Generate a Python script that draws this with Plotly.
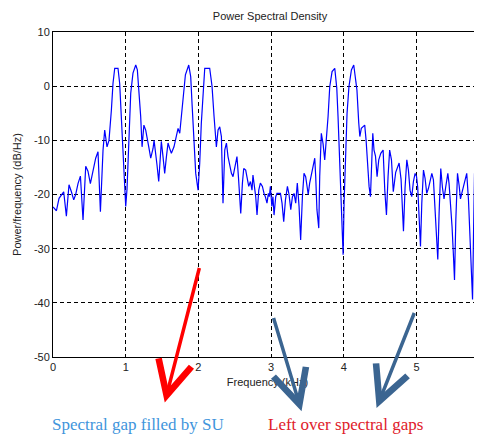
import plotly.graph_objects as go

freq_khz = [0.0, 0.047, 0.083, 0.129, 0.147, 0.184, 0.22, 0.253, 0.285, 0.312, 0.344, 0.377, 0.413, 0.45, 0.481, 0.514, 0.55, 0.587, 0.619, 0.652, 0.688, 0.711, 0.743, 0.77, 0.803, 0.825, 0.849, 0.894, 0.917, 0.94, 0.963, 1.0, 1.018, 1.045, 1.069, 1.1, 1.138,
            1.16, 1.18, 1.206, 1.225, 1.25, 1.275, 1.3, 1.317, 1.344, 1.376, 1.39, 1.408, 1.43, 1.454, 1.477, 1.49, 1.513, 1.536, 1.56, 1.582, 1.605, 1.628, 1.664, 1.697, 1.72, 1.743, 1.766, 1.788, 1.821, 1.867, 1.894, 1.912, 1.94, 1.963, 1.995, 2.018, 2.04, 2.063, 2.087, 2.155, 2.187, 2.215, 2.247, 2.27, 2.293, 2.316,
            2.338, 2.362, 2.385, 2.407, 2.43, 2.454, 2.476, 2.5, 2.53, 2.55, 2.568, 2.582, 2.605, 2.623, 2.65, 2.67, 2.692, 2.715, 2.737, 2.75, 2.774, 2.788, 2.806, 2.83, 2.852, 2.88, 2.902, 2.92, 2.943, 2.962, 2.975, 2.99, 3.01, 3.025, 3.04, 3.063, 3.08, 3.128, 3.15, 3.173, 3.197, 3.224, 3.246, 3.27, 3.293, 3.315, 3.338, 3.36, 3.384, 3.406, 3.43, 3.452, 3.475,
            3.51, 3.53, 3.554, 3.576, 3.6, 3.613, 3.63, 3.655, 3.668, 3.69, 3.714, 3.737, 3.76, 3.783, 3.806, 3.838, 3.875, 3.903, 3.92, 3.94, 3.96, 3.976, 3.99, 4.003, 4.022, 4.044, 4.07, 4.104, 4.136, 4.16, 4.18, 4.205, 4.22, 4.24, 4.287, 4.306, 4.325, 4.347, 4.366, 4.38, 4.398, 4.415, 4.435, 4.457, 4.48, 4.508, 4.54, 4.563, 4.586, 4.608, 4.63, 4.655,
            4.68, 4.713, 4.74, 4.76, 4.787, 4.806, 4.82, 4.842, 4.866, 4.888, 4.91, 4.934, 4.957, 4.98, 5.0, 5.016, 5.035, 5.054, 5.072, 5.095, 5.117, 5.14, 5.163, 5.186, 5.21, 5.232, 5.255, 5.278, 5.292, 5.31, 5.333, 5.356, 5.378, 5.4, 5.43, 5.447, 5.466, 5.488, 5.508, 5.522, 5.54, 5.563, 5.585, 5.604, 5.622, 5.645, 5.667, 5.69, 5.714, 5.732, 5.75, 5.77, 5.783, 5.797, 5.82, 5.842, 5.865, 5.9]

psd_db = [-22.3, -23, -20.7, -19.7, -19.5, -24, -18.2, -19.5, -21, -20, -18, -16.6, -24.7, -14.8, -15.7, -18, -15.5, -13.3, -12.1, -23.2, -11.8, -8.1, -11.2, -10, -4.4, 0.5, 3.3, 3.3, 0.5, -6.2, -12.5, -22.2, -19, -9.3, -1.3, 2.4, 3.9,
          3, -0.7, -5.6, -11.2, -7.2, -8.1, -9.6, -11.2, -13.3, -11.5, -10, -11.8, -14.5, -17.6, -11.8, -10.2, -13, -16.1, -13, -10.5, -11.5, -12.4, -11.2, -9.3, -7.8, -8.7, -5.6, -1.3, 2.1, 3.9, 1.75, -3.2, -11.8, -16.1, -19.2, -14.2, -6.8, -1.3, 3.3, 3.3, 0, -5.6, -11.2, -8.1, -7.5, -9.3,
          -21.6, -11.8, -10.5, -13, -14.5, -16.1, -16.7, -14.8, -13, -16.7, -21.6, -23.5, -17.9, -15.2, -15.5, -17.3, -18.5, -17.6, -19.2, -16.4, -18.5, -20.4, -23.8, -19.2, -17.9, -18.5, -19.8, -20.4, -21.6, -19.8, -20.4, -18.5, -22.2, -20.4, -23.8, -20.4, -19.8, -19.8, -21.6, -25, -21, -18.5, -20, -22.8, -20.4, -19.8, -21.6, -17.9, -22.2, -28.4, -20.4, -16.1, -16.7,
          -20, -17.9, -16.1, -14.8, -13.3, -16.7, -22.8, -26.2, -16.7, -8.7, -10.6, -13.6, -10, -5.6, -0.1, 2.7, 3.3, -0.4, -5.6, -13.6, -22.2, -25.3, -31.1, -21.6, -11.8, -5, -0.1, 3, 3.9, 1.75, -0.7, -6.8, -9.3, -7.8, -7.2, -10, -14.8, -18.5, -20.4, -14.8, -8.7, -11.8, -12.9, -16.7, -13.6, -12.4, -11.8, -19.2, -23.8, -16.7, -11.8, -13.6,
          -19.5, -15.9, -14.8, -14.2, -17.2, -22.1, -26.8, -18.7, -13.6, -15.5, -19.2, -20.4, -17.6, -16.1, -16.7, -18.7, -24.7, -29.6, -21.6, -15.5, -17, -19.8, -18.9, -17.3, -16.1, -17.3, -22.8, -27.8, -32, -23.4, -15.2, -18.7, -20.8, -18.7, -16.1, -18, -21.1, -25.9, -31.5, -35.8, -24.7, -16.1, -18.3, -20.8, -19.8, -18.7, -17.3, -16.1, -21, -27.8, -34.5, -39.4, -27.8, -16.1, -18.7, -20.4, -20.1, -20.1]

x_ticks = [0, 1, 2, 3, 4, 5]
y_ticks = [10, 0, -10, -20, -30, -40, -50]

# the page body adds an 8px margin, so the figure is 8px smaller than the window
W, H = 474, 426

fig = go.Figure()
fig.add_trace(go.Scatter(x=freq_khz, y=psd_db, mode="lines",
                         line=dict(color="#0000ff", width=1.2), hoverinfo="skip"))

axis_font = dict(family="Liberation Sans, Arial, sans-serif", size=11, color="#222222")
fig.update_layout(
    width=W, height=H,
    margin=dict(l=45, r=0, t=24, b=77, pad=0),
    paper_bgcolor="white", plot_bgcolor="white",
    showlegend=False,
    title=dict(text="Power Spectral Density", x=262 / W, xanchor="center",
               y=1 - 8 / H, yanchor="middle",
               font=dict(family="Liberation Sans, Arial, sans-serif", size=11, color="#222222")),
    font=axis_font,
)
fig.update_xaxes(range=[0, 5.9], tickvals=x_ticks, ticktext=[str(v) for v in x_ticks],
                 showline=True, linecolor="black", linewidth=1, mirror=True,
                 showgrid=True, gridcolor="black", gridwidth=1, griddash="4px,3px",
                 zeroline=False, ticks="inside", ticklen=3, tickcolor="black",
                 tickfont=axis_font,
                 title=dict(text="Frequency (kHz)", font=axis_font, standoff=6))
fig.update_yaxes(range=[-50, 10], tickvals=y_ticks, ticktext=[str(v) for v in y_ticks],
                 showline=True, linecolor="black", linewidth=1,
                 showgrid=True, gridcolor="black", gridwidth=1, griddash="4px,3px",
                 zeroline=False, ticks="inside", ticklen=3, tickcolor="black",
                 tickfont=axis_font,
                 title=dict(text="Power/frequency (dB/Hz)", font=axis_font, standoff=10))

# arrows (tail -> head in data coordinates)
arrows = [
    dict(tail=(2.018, -33.3), head=(1.537, -58.4), color="#ff0000"),
    dict(tail=(3.027, -42.5), head=(3.418, -60.0), color="#3b6591"),
    dict(tail=(4.977, -41.6), head=(4.45, -59.4), color="#3b6591"),
]
for a in arrows:
    fig.add_annotation(x=a["head"][0], y=a["head"][1], xref="x", yref="y",
                       ax=a["tail"][0], ay=a["tail"][1], axref="x", ayref="y",
                       showarrow=True, arrowhead=5, arrowsize=1.9, arrowwidth=3.5,
                       arrowcolor=a["color"], text="")

labels = [
    dict(text="Spectral gap filled by SU", x=1.17, color="#3f95dc"),
    dict(text="Left over spectral gaps", x=4.02, color="#e0202a"),
]
for lb in labels:
    fig.add_annotation(x=lb["x"], y=-0.208, xref="x", yref="paper", showarrow=False,
                       text=lb["text"], xanchor="center", yanchor="middle",
                       font=dict(family="Liberation Serif, serif", size=17, color=lb["color"]))

fig.write_html("out.html")
